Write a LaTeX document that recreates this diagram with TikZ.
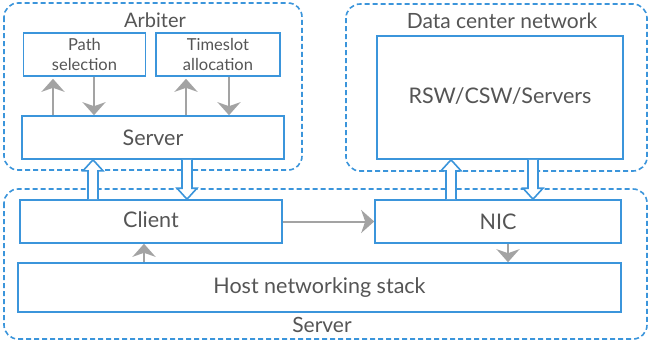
\documentclass[tikz,border=0pt]{standalone}
\usepackage{fontspec}
\setmainfont{Lato}
\usetikzlibrary{arrows.meta,calc}
\definecolor{frameblue}{HTML}{3B95DB}
\definecolor{txtgray}{HTML}{555555}
\definecolor{arrgray}{HTML}{A3A3A3}
\tikzset{
  group/.style={draw=frameblue, line width=1.6pt, dash pattern=on 5pt off 3pt, rounded corners=14pt},
  block/.style={draw=frameblue, line width=1.6pt, fill=white, text=txtgray, inner sep=0pt, font=\fontsize{21.5}{24}\selectfont},
  smallblock/.style={block, align=center, font=\fontsize{16.5}{20}\selectfont},
  title/.style={text=txtgray, font=\fontsize{21}{24}\selectfont, inner sep=0pt},
  flow/.style={draw=arrgray, line width=2.4pt, -{Stealth[length=13pt,width=23pt,inset=4pt]}},
  thinflow/.style={flow, line width=2pt},
  hollow/.style={draw=frameblue, line width=1.6pt, fill=white, line join=miter},
}
% vertical outlined arrow from #1 (tail) to #2 (tip)
\newcommand\fatarrow[2]{%
  \draw[hollow] let \p1=(#1), \p2=(#2), \n1={sign(\y2-\y1)} in
    (\x1-5pt,\y1) -- (\x1-5pt,\y2-\n1*11pt) -- (\x1-10pt,\y2-\n1*11pt) -- (\x2,\y2)
    -- (\x1+10pt,\y2-\n1*11pt) -- (\x1+5pt,\y2-\n1*11pt) -- (\x1+5pt,\y1);}
\begin{document}
\begin{tikzpicture}[x=1pt,y=-1pt]
\useasboundingbox (0,0) rectangle (649,349);
\fill[white] (0,0) rectangle (649,349);

% dashed groups
\draw[group] (4,3) rectangle (302,170);
\draw[group] (346,4) rectangle (647,171);
\draw[group] (4,189) rectangle (647,339);

\node[title, font=\fontsize{20}{24}\selectfont] (arbtitle) at (155,20) {Arbiter};
\node[title] (dctitle) at (502,21) {Data center network};
\node[title] (srvtitle) at (322,325) {Server};

% arbiter
\node[smallblock, minimum width=122pt, minimum height=43pt] (path) at (84.5,54.5) {\raisebox{-2pt}{\parbox{110pt}{\centering Path\\selection}}};
\node[smallblock, minimum width=124pt, minimum height=43pt] (slot) at (218,54.5) {\raisebox{-1pt}{\parbox{110pt}{\centering Timeslot\\allocation}}};
\node[block, minimum width=262pt, minimum height=43pt] (asrv) at (153,137.5) {Server};

% data center
\node[block, minimum width=246pt, minimum height=123pt] (rsw) at (500,97.5) {\raisebox{3pt}{RSW/CSW/Servers}};

% server
\node[block, minimum width=262pt, minimum height=43pt] (client) at (151,221.5) {\raisebox{3pt}{Client}};
\node[block, minimum width=246pt, minimum height=43pt] (nic) at (498,221.5) {\raisebox{-2pt}{NIC}};
\node[block, minimum width=603pt, minimum height=49pt] (host) at (319.5,287.5) {Host networking stack};

% arbiter internal flows
\draw[flow] (53,0 |- asrv.north) -- ([yshift=-2pt]53,0 |- path.south);
\draw[flow] (94,0 |- path.south) -- (94,0 |- asrv.north);
\draw[flow] (186,0 |- asrv.north) -- ([yshift=-2pt]186,0 |- slot.south);
\draw[flow] (229,0 |- slot.south) -- (229,0 |- asrv.north);

% host flows
\draw[thinflow] (client.east) -- (nic.west);
\draw[thinflow] (144,0 |- host.north) -- (144,0 |- client.south);
\draw[thinflow] (508,0 |- nic.south) -- (508,0 |- host.north);

% links between groups
\fatarrow{93,0 |- client.north}{93,0 |- asrv.south}
\fatarrow{187,0 |- asrv.south}{187,0 |- client.north}
\fatarrow{451,0 |- nic.north}{451,0 |- rsw.south}
\fatarrow{533,0 |- rsw.south}{533,0 |- nic.north}
\end{tikzpicture}
\end{document}
